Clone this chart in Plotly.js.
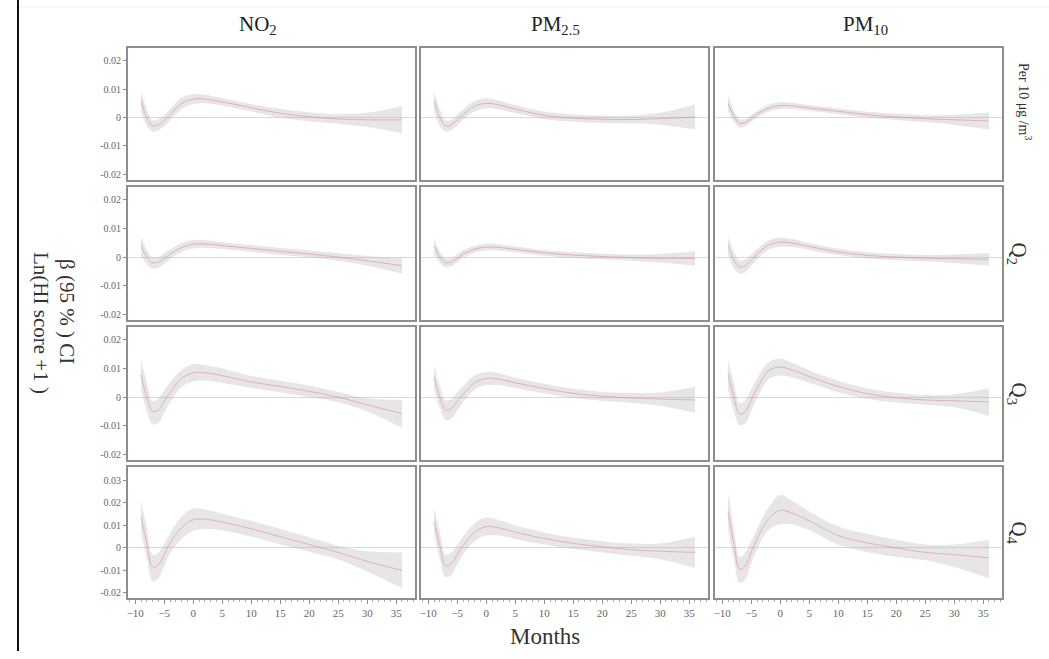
<!DOCTYPE html>
<html>
<head>
<meta charset="utf-8">
<script src="https://cdn.plot.ly/plotly-3.0.1.min.js"></script>
<style>html,body{margin:0;padding:0;background:#fff;}#chart{width:1049px;height:659px;}</style>
</head>
<body>
<div id="chart"></div>
<script>
// ---------------- data ----------------
const months = [-9, -8, -7, -6, -5, -4, -2, 0, 2, 5, 10, 15, 20, 25, 30, 36];
const pollutants = ["NO<sub>2</sub>", "PM<sub>2.5</sub>", "PM<sub>10</sub>"];
const exposureRows = ["Per 10 μg /m<sup>3</sup>", "Q<sub>2</sub>", "Q<sub>3</sub>", "Q<sub>4</sub>"];
const xTickVals = [-10, -5, 0, 5, 10, 15, 20, 25, 30, 35];
const yTickVals = [-0.02, -0.01, 0, 0.01, 0.02];
const yTickText = ["-0.02", "-0.01", "0", "0.01", "0.02"];
const yTickValsQ4 = [-0.02, -0.01, 0, 0.01, 0.02, 0.03];
const yTickTextQ4 = ["-0.02", "-0.01", "0", "0.01", "0.02", "0.03"];

// Row 1: per 10 ug/m3
const no2_per10_est = [0.006, 0.000, -0.003, -0.0025, -0.001, 0.001, 0.005, 0.0065, 0.0065, 0.0055, 0.0035, 0.0015, 0.0003, -0.0005, -0.0008, -0.0008];
const no2_per10_lo  = [0.002, -0.003, -0.005, -0.0045, -0.003, -0.001, 0.003, 0.0048, 0.005, 0.0042, 0.0022, 0.0, -0.0013, -0.0022, -0.0033, -0.0055];
const no2_per10_hi  = [0.009, 0.003, -0.001, -0.0005, 0.001, 0.003, 0.007, 0.0082, 0.008, 0.0068, 0.0048, 0.003, 0.0019, 0.0012, 0.0017, 0.004];

const pm25_per10_est = [0.006, 0.000, -0.003, -0.0025, -0.0008, 0.001, 0.004, 0.005, 0.0045, 0.003, 0.0008, -0.0002, -0.0006, -0.0007, -0.0004, 0.0002];
const pm25_per10_lo  = [0.002, -0.003, -0.005, -0.0045, -0.0028, -0.0008, 0.0022, 0.0032, 0.0029, 0.0016, -0.0005, -0.0015, -0.0019, -0.0021, -0.0025, -0.0042];
const pm25_per10_hi  = [0.009, 0.003, -0.001, -0.0008, 0.001, 0.0028, 0.0058, 0.0068, 0.0061, 0.0044, 0.0021, 0.0011, 0.0007, 0.0007, 0.0017, 0.0046];

const pm10_per10_est = [0.005, 0.0005, -0.002, -0.0017, -0.0003, 0.0012, 0.0033, 0.0042, 0.0041, 0.0034, 0.0022, 0.001, 0.0002, -0.0004, -0.0008, -0.0012];
const pm10_per10_lo  = [0.002, -0.0015, -0.0035, -0.003, -0.0016, 0.0, 0.0021, 0.003, 0.003, 0.0024, 0.0012, 0.0, -0.0009, -0.0016, -0.0026, -0.0042];
const pm10_per10_hi  = [0.008, 0.0025, -0.0005, -0.0004, 0.001, 0.0024, 0.0045, 0.0054, 0.0052, 0.0044, 0.0032, 0.002, 0.0013, 0.0008, 0.001, 0.0018];

// Row 2: Q2
const no2_q2_est = [0.004, 0.0, -0.002, -0.0018, -0.0005, 0.001, 0.0033, 0.0045, 0.0046, 0.004, 0.003, 0.002, 0.0011, 0.0, -0.0013, -0.003];
const no2_q2_lo  = [0.0005, -0.0025, -0.004, -0.0038, -0.0024, -0.0007, 0.0018, 0.003, 0.0033, 0.0028, 0.0018, 0.0008, -0.0001, -0.0013, -0.003, -0.0057];
const no2_q2_hi  = [0.007, 0.0025, -0.0002, 0.0, 0.0014, 0.0027, 0.0048, 0.006, 0.0059, 0.0052, 0.0042, 0.0032, 0.0023, 0.0013, 0.0004, -0.0003];

const pm25_q2_est = [0.004, 0.0, -0.002, -0.0017, -0.0004, 0.001, 0.0028, 0.0035, 0.0034, 0.0027, 0.0015, 0.0007, 0.0002, -0.0002, -0.0004, -0.0005];
const pm25_q2_lo  = [0.001, -0.002, -0.0035, -0.0032, -0.0018, -0.0003, 0.0016, 0.0023, 0.0023, 0.0017, 0.0005, -0.0003, -0.0008, -0.0013, -0.0019, -0.003];
const pm25_q2_hi  = [0.0065, 0.002, -0.0005, -0.0002, 0.001, 0.0023, 0.004, 0.0047, 0.0045, 0.0037, 0.0025, 0.0017, 0.0012, 0.0009, 0.0011, 0.002];

const pm10_q2_est = [0.004, -0.001, -0.0035, -0.003, -0.001, 0.001, 0.0042, 0.0052, 0.0049, 0.0037, 0.0018, 0.0006, 0.0, -0.0004, -0.0006, -0.0008];
const pm10_q2_lo  = [0.0005, -0.004, -0.0058, -0.0052, -0.003, -0.0008, 0.0026, 0.0036, 0.0035, 0.0025, 0.0007, -0.0005, -0.0011, -0.0015, -0.0021, -0.003];
const pm10_q2_hi  = [0.007, 0.002, -0.0012, -0.0008, 0.001, 0.0028, 0.0058, 0.0068, 0.0063, 0.0049, 0.0029, 0.0017, 0.0011, 0.0007, 0.0009, 0.0014];

// Row 3: Q3
const no2_q3_est = [0.008, 0.0, -0.005, -0.0045, -0.0015, 0.0015, 0.0065, 0.0085, 0.0085, 0.0075, 0.0053, 0.0037, 0.002, 0.0, -0.0027, -0.0058];
const no2_q3_lo  = [0.003, -0.005, -0.0095, -0.009, -0.0055, -0.002, 0.0035, 0.0055, 0.0058, 0.005, 0.0032, 0.0017, 0.0, -0.0018, -0.005, -0.0107];
const no2_q3_hi  = [0.013, 0.005, -0.0015, -0.0005, 0.0025, 0.005, 0.0095, 0.0115, 0.0112, 0.01, 0.0074, 0.0057, 0.004, 0.0018, -0.0004, -0.001];

const pm25_q3_est = [0.007, 0.0, -0.0045, -0.004, -0.0015, 0.001, 0.005, 0.0065, 0.0063, 0.005, 0.003, 0.0013, 0.0003, -0.0003, -0.0007, -0.001];
const pm25_q3_lo  = [0.003, -0.004, -0.008, -0.0075, -0.0048, -0.0018, 0.0025, 0.0042, 0.0042, 0.0032, 0.0013, -0.0003, -0.0013, -0.002, -0.003, -0.0055];
const pm25_q3_hi  = [0.011, 0.004, -0.001, -0.0008, 0.0018, 0.0038, 0.0075, 0.0088, 0.0084, 0.0068, 0.0047, 0.0029, 0.0019, 0.0014, 0.0016, 0.0035];

const pm10_q3_est = [0.008, 0.0, -0.006, -0.005, -0.001, 0.003, 0.0092, 0.0105, 0.0095, 0.0072, 0.0037, 0.0012, -0.0002, -0.001, -0.0013, -0.0017];
const pm10_q3_lo  = [0.003, -0.005, -0.0098, -0.009, -0.0048, -0.0005, 0.0062, 0.0075, 0.0069, 0.005, 0.0017, -0.0006, -0.0019, -0.0027, -0.0036, -0.0065];
const pm10_q3_hi  = [0.013, 0.005, -0.0022, -0.001, 0.0028, 0.0065, 0.0122, 0.0135, 0.0121, 0.0094, 0.0057, 0.003, 0.0015, 0.0007, 0.001, 0.003];

// Row 4: Q4
const no2_q4_est = [0.014, 0.002, -0.0085, -0.0075, -0.003, 0.002, 0.009, 0.0125, 0.0128, 0.0115, 0.0085, 0.005, 0.0015, -0.002, -0.006, -0.01];
const no2_q4_lo  = [0.007, -0.005, -0.015, -0.0135, -0.008, -0.0025, 0.004, 0.0075, 0.0085, 0.0078, 0.005, 0.0015, -0.0017, -0.005, -0.0105, -0.018];
const no2_q4_hi  = [0.021, 0.009, -0.003, -0.002, 0.002, 0.0065, 0.014, 0.0175, 0.0171, 0.0152, 0.012, 0.0085, 0.0047, 0.001, -0.0015, -0.002];

const pm25_q4_est = [0.012, 0.001, -0.008, -0.007, -0.003, 0.001, 0.007, 0.0095, 0.009, 0.007, 0.0042, 0.002, 0.0005, -0.0008, -0.0015, -0.002];
const pm25_q4_lo  = [0.006, -0.005, -0.013, -0.012, -0.0075, -0.003, 0.003, 0.0055, 0.0055, 0.004, 0.0015, -0.0005, -0.002, -0.0035, -0.005, -0.009];
const pm25_q4_hi  = [0.018, 0.007, -0.003, -0.002, 0.0015, 0.005, 0.011, 0.0135, 0.0125, 0.01, 0.0069, 0.0045, 0.003, 0.0019, 0.002, 0.005];

const pm10_q4_est = [0.016, 0.002, -0.0095, -0.008, -0.002, 0.004, 0.013, 0.0168, 0.0155, 0.012, 0.0055, 0.0022, 0.0, -0.002, -0.003, -0.0045];
const pm10_q4_lo  = [0.008, -0.005, -0.0155, -0.014, -0.007, -0.0005, 0.008, 0.0105, 0.0105, 0.0078, 0.0015, -0.0018, -0.004, -0.0055, -0.0085, -0.0135];
const pm10_q4_hi  = [0.0245, 0.009, -0.004, -0.002, 0.003, 0.0085, 0.018, 0.0235, 0.021, 0.0162, 0.0095, 0.0062, 0.0036, 0.0015, 0.0015, 0.0036];

const panels = [
  [[no2_per10_est, no2_per10_lo, no2_per10_hi], [pm25_per10_est, pm25_per10_lo, pm25_per10_hi], [pm10_per10_est, pm10_per10_lo, pm10_per10_hi]],
  [[no2_q2_est, no2_q2_lo, no2_q2_hi], [pm25_q2_est, pm25_q2_lo, pm25_q2_hi], [pm10_q2_est, pm10_q2_lo, pm10_q2_hi]],
  [[no2_q3_est, no2_q3_lo, no2_q3_hi], [pm25_q3_est, pm25_q3_lo, pm25_q3_hi], [pm10_q3_est, pm10_q3_lo, pm10_q3_hi]],
  [[no2_q4_est, no2_q4_lo, no2_q4_hi], [pm25_q4_est, pm25_q4_lo, pm25_q4_hi], [pm10_q4_est, pm10_q4_lo, pm10_q4_hi]]
];

// ---------------- layout geometry ----------------
const W = 1049, H = 659;
const colPx = [[128, 415], [421, 708], [715, 1002]];
const rowPx = [[48, 180], [187, 320], [327, 460], [467, 598]];
const px2x = p => p / W;
const px2y = p => 1 - p / H;
const serif = "Liberation Serif";

const traces = [];
const layout = {
  width: W, height: H,
  margin: {l: 0, r: 0, t: 0, b: 0},
  paper_bgcolor: "#ffffff", plot_bgcolor: "#ffffff",
  showlegend: false,
  annotations: [], shapes: []
};

for (let r = 0; r < 4; r++) {
  for (let c = 0; c < 3; c++) {
    const n = r * 3 + c + 1;
    const xa = "x" + n, ya = "y" + n;
    const [est, lo, hi] = panels[r][c];
    traces.push({x: months, y: lo, xaxis: xa, yaxis: ya, mode: "lines",
      line: {width: 0, shape: "spline", color: "rgba(0,0,0,0)"}, hoverinfo: "skip"});
    traces.push({x: months, y: hi, xaxis: xa, yaxis: ya, mode: "lines", fill: "tonexty",
      fillcolor: "rgba(180,174,180,0.32)",
      line: {width: 0, shape: "spline", color: "rgba(0,0,0,0)"}, hoverinfo: "skip"});
    traces.push({x: months, y: est, xaxis: xa, yaxis: ya, mode: "lines",
      line: {width: 1, shape: "spline", color: "rgba(215,125,135,0.5)"}});

    const bottom = r === 3, left = c === 0;
    const xKey = n === 1 ? "xaxis" : "xaxis" + n;
    const yKey = n === 1 ? "yaxis" : "yaxis" + n;
    layout[xKey] = {
      domain: [px2x(colPx[c][0]), px2x(colPx[c][1])],
      anchor: ya, range: [-11.25, 38.25],
      showline: true, mirror: true, linecolor: "#8e8e8e", linewidth: 2,
      showgrid: false, zeroline: false,
      tickmode: "array", tickvals: xTickVals,
      showticklabels: bottom, ticks: bottom ? "outside" : "",
      ticklen: 4, tickcolor: "#8e8e8e", tickwidth: 1,
      tickfont: {family: serif, size: 11, color: "#666"},
      minor: bottom ? {dtick: 1, ticks: "outside", ticklen: 2, tickcolor: "#aaa"} : {ticks: ""},
      fixedrange: true
    };
    layout[yKey] = {
      domain: [px2y(rowPx[r][1]), px2y(rowPx[r][0])],
      anchor: xa,
      range: bottom ? [-0.0223, 0.036] : [-0.022, 0.0245],
      showline: true, mirror: true, linecolor: "#8e8e8e", linewidth: 2,
      showgrid: false,
      zeroline: true, zerolinecolor: "#ead2d4", zerolinewidth: 1,
      tickmode: "array",
      tickvals: bottom ? yTickValsQ4 : yTickVals,
      ticktext: bottom ? yTickTextQ4 : yTickText,
      showticklabels: left, ticks: left ? "outside" : "",
      ticklen: 3, tickcolor: "#8e8e8e", tickwidth: 1,
      tickfont: {family: serif, size: 10, color: "#666"},
      fixedrange: true
    };
  }
}

function ann(text, xp, yp, size, angle, color) {
  layout.annotations.push({text: text, x: px2x(xp), y: px2y(yp), xref: "paper", yref: "paper",
    xanchor: "center", yanchor: "middle", showarrow: false, textangle: angle || 0,
    font: {family: serif, size: size, color: color || "#333"}});
}

// column titles
const colTitleX = [258, 555, 865];
pollutants.forEach((t, i) => ann(t, colTitleX[i], 25, 21, 0, "#222"));
// row titles
exposureRows.forEach((t, i) => {
  const yc = (rowPx[i][0] + rowPx[i][1]) / 2;
  if (i === 0) ann(t, 1025, 101, 14, 90, "#333");
  else ann(t, 1018, yc, 21, 90, "#333");
});
// y title (two lines)
ann("β (95 % ) CI", 67, 311, 21, 90, "#333");
ann("Ln(HI score +1 )", 41, 323, 21, 90, "#333");
// x title
ann("Months", 545, 636, 23, 0, "#333");

// frame lines
layout.shapes.push({type: "line", xref: "paper", yref: "paper", x0: px2x(18), x1: px2x(18), y0: px2y(0), y1: px2y(651),
  line: {color: "#111", width: 2}});
layout.shapes.push({type: "line", xref: "paper", yref: "paper", x0: px2x(19), x1: 1, y0: px2y(7), y1: px2y(7),
  line: {color: "#efefef", width: 1}});

Plotly.newPlot("chart", traces, layout, {staticPlot: true, displayModeBar: false});
</script>
</body>
</html>
